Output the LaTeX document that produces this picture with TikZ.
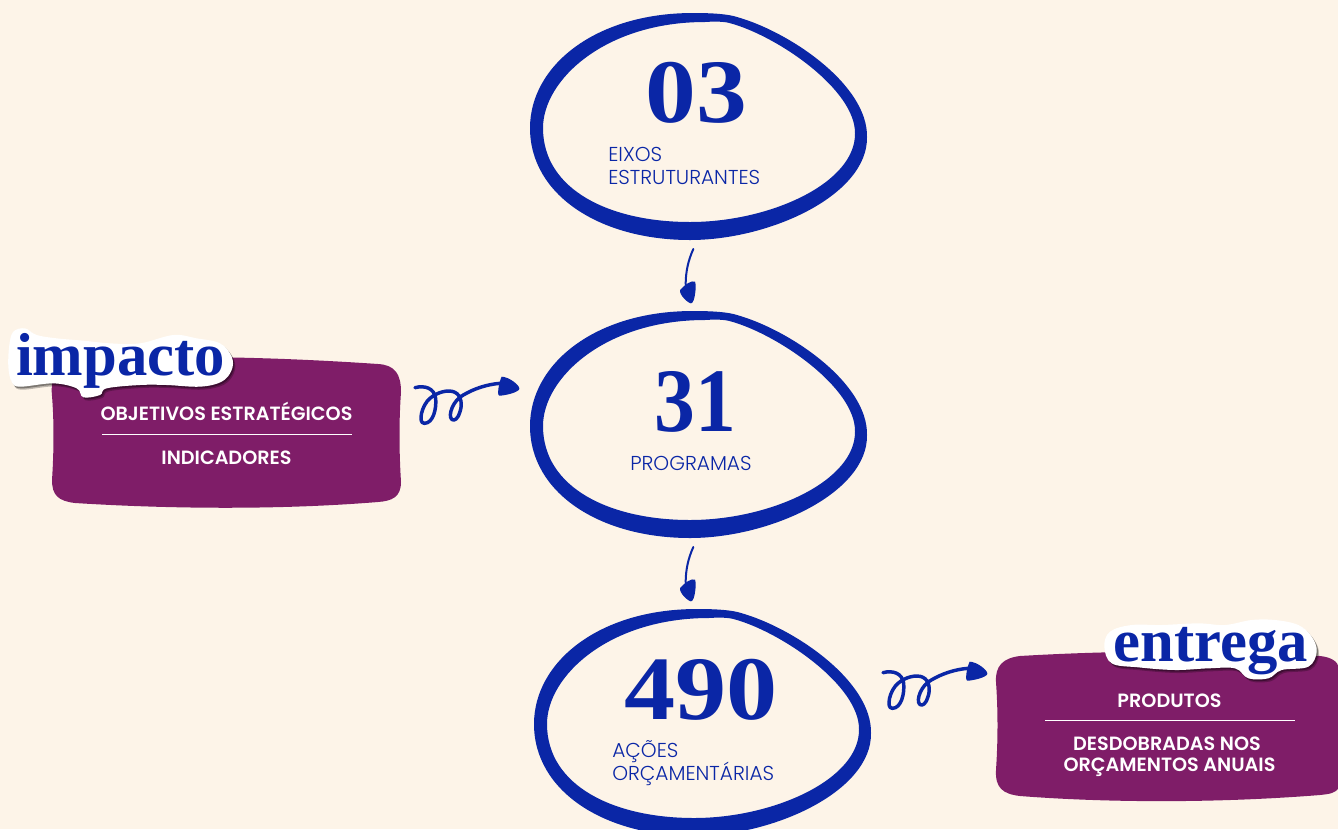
\documentclass[tikz,border=0pt]{standalone}
\usepackage{fontspec}
\usepackage{graphicx}
\setmainfont{Poppins}
\newfontfamily\lightf{Poppins Light}
\newfontfamily\semif{Poppins SemiBold}
\newfontfamily\serif{Liberation Serif}[BoldFont={Liberation Serif Bold}]
\definecolor{bgc}{HTML}{FDF4E8}
\definecolor{bluec}{HTML}{0A26A6}
\definecolor{purplec}{HTML}{7F1D68}
\newcommand{\ringshape}{
  (530,128) .. controls (530,66) and (595,13) .. (693,13)
  .. controls (712,13) and (728,14) .. (737,17)
  .. controls (790,32) and (868,85) .. (867,137)
  .. controls (868,195) and (770,240) .. (690,240)
  .. controls (600,240) and (530,195) .. (530,128) -- cycle
  (543,128) .. controls (543,80) and (605,22) .. (705,22)
  .. controls (720,21) and (727,22) .. (733,24)
  .. controls (780,38) and (855,90) .. (855,133)
  .. controls (856,183) and (770,222) .. (690,222)
  .. controls (610,222) and (543,190) .. (543,128) -- cycle}
\newcommand{\curlline}[2]{(#1) .. controls (60,60) and (88,70) .. (92,100)
  .. controls (95,130) and (85,175) .. (58,175)
  .. controls (38,175) and (50,120) .. (75,100)
  .. controls (95,82) and (130,72) .. (150,82)
  .. controls (170,92) and (172,120) .. (165,140)
  .. controls (160,160) and (148,170) .. (140,163)
  .. controls (128,150) and (145,105) .. (175,90)
  .. controls (205,72) and (245,58) .. (#2)}
\newcommand{\curlhead}{(290,35) .. controls (310,35) and (345,60) .. (343,72)
  .. controls (340,82) and (300,92) .. (283,92)
  .. controls (275,92) and (282,50) .. (290,35) -- cycle}
\newcommand{\downhead}{(45,135) .. controls (60,118) and (80,105) .. (90,110)
  .. controls (95,120) and (90,175) .. (78,175)
  .. controls (70,175) and (42,150) .. (45,135) -- cycle}
\tikzset{
  ring/.style={fill=bluec,even odd rule},
  numtext/.style={font=\serif\bfseries\fontsize{68}{68}\selectfont,text=bluec,inner sep=0pt,anchor=base},
  captext/.style={font=\lightf\fontsize{15.1}{16.5}\selectfont,text=bluec,inner sep=0pt,anchor=base west},
  whitetext/.style={font=\semif\fontsize{14.4}{15.8}\selectfont,text=white,inner sep=0pt,anchor=base},
  stickertext/.style={font=\serif\bfseries\fontsize{45.5}{45.5}\selectfont,text=bluec,inner sep=0pt,anchor=base},
  thinarrow/.style={draw=bluec,line width=1.5pt,line cap=round},
  curlarrow/.style={draw=bluec,line width=2.6pt,line cap=round,line join=round},
  small/.style={x=0.25pt,y=-0.25pt}
}
\begin{document}
\begin{tikzpicture}[x=0.75pt,y=-0.75pt]
\useasboundingbox (0,0) rectangle (1338,829);
\fill[bgc] (0,0) rectangle (1338,829);

% rings
\path[ring] \ringshape;
\begin{scope}[shift={(0,298)}] \path[ring] \ringshape; \end{scope}
\begin{scope}[shift={(4,596)}] \path[ring] \ringshape; \end{scope}

% numbers and captions
\node[numtext] (n03) at (696,122) {\scalebox{1.12}[1]{03}};
\node[numtext] (n31) at (695,431) {\scalebox{0.9}[1]{31}};
\node[numtext] (n490) at (701,719) {\scalebox{1.127}[1]{490}};
\node[captext] (c03a) at (608,161) {EIXOS};
\node[captext] (c03b) at (608,184) {ESTRUTURANTES};
\node[captext] (c31) at (630,470) {PROGRAMAS};
\node[captext] (c490a) at (612,757) {AÇÕES};
\node[captext] (c490b) at (612,780) {ORÇAMENTÁRIAS};

% vertical arrows
\begin{scope}[shift={(665,245)},small]
\coordinate (a1s) at (85,12);
\coordinate (a1e) at (62,118);
\draw[thinarrow] (a1s) .. controls (70,45) and (62,80) .. (a1e);
\fill[bluec] \downhead;
\end{scope}
\begin{scope}[shift={(665,543)},small]
\coordinate (a2s) at (85,12);
\coordinate (a2e) at (62,118);
\draw[thinarrow] (a2s) .. controls (70,45) and (62,80) .. (a2e);
\fill[bluec] \downhead;
\end{scope}

% purple boxes
\fill[purplec] (52,396) .. controls (50,375) and (58,362) .. (78,360)
  .. controls (180,354) and (290,358) .. (378,364)
  .. controls (395,365) and (401,374) .. (401,392)
  .. controls (399,420) and (399,450) .. (401,482)
  .. controls (401,497) and (392,501) .. (378,502)
  .. controls (280,510) and (170,509) .. (75,503)
  .. controls (58,501) and (52,495) .. (52,480)
  .. controls (54,450) and (54,420) .. (52,396) -- cycle;
\fill[purplec] (996,682) .. controls (995,666) and (1003,658) .. (1020,656)
  .. controls (1120,650) and (1230,650) .. (1320,656)
  .. controls (1330,657) and (1338,661) .. (1339,668)
  -- (1339,788)
  .. controls (1335,793) and (1330,794) .. (1320,795)
  .. controls (1220,803) and (1110,803) .. (1020,796)
  .. controls (1003,794) and (995,788) .. (996,770)
  .. controls (998,740) and (998,710) .. (996,682) -- cycle;

% box text
\node[whitetext] (t1) at (226.5,420) {OBJETIVOS ESTRATÉGICOS};
\coordinate (r1a) at (102,434.5);
\coordinate (r1b) at (352,434.5);
\draw[white,line width=0.6pt] (r1a) -- (r1b);
\node[whitetext] (t2) at (226.5,464) {INDICADORES};
\node[whitetext] (t3) at (1169.5,707) {PRODUTOS};
\coordinate (r2a) at (1045,720.5);
\coordinate (r2b) at (1295,720.5);
\draw[white,line width=0.6pt] (r2a) -- (r2b);
\node[whitetext] (t4a) at (1167,750) {DESDOBRADAS NOS};
\node[whitetext] (t4b) at (1169.5,771.5) {ORÇAMENTOS ANUAIS};

% curly arrows
\begin{scope}[shift={(405,365)},small]
\coordinate (l1s) at (30,68);
\coordinate (l1e) at (285,55);
\draw[curlarrow] \curlline{l1s}{l1e};
\fill[bluec] \curlhead;
\end{scope}
\begin{scope}[shift={(873,650)},small]
\coordinate (l2s) at (30,68);
\coordinate (l2e) at (285,55);
\draw[curlarrow] \curlline{l2s}{l2e};
\fill[bluec] \curlhead;
\end{scope}

% stickers
\newcommand{\impshape}{plot[smooth cycle,tension=0.6] coordinates {(28,75) (40,35) (75,25) (110,45) (170,55) (250,62) (330,70) (420,70) (520,45) (590,55) (660,70) (695,110) (695,150) (665,185) (600,200) (500,195) (420,195) (320,205) (300,225) (250,232) (230,205) (160,190) (60,200) (35,185) (25,140)}}
\newcommand{\entshape}{plot[smooth cycle,tension=0.6] coordinates {(28,110) (45,65) (110,45) (200,45) (310,40) (390,45) (470,30) (540,30) (610,45) (650,80) (665,125) (640,170) (560,180) (520,205) (460,205) (420,175) (340,175) (240,180) (130,172) (50,160)}}
\begin{scope}[shift={(0,320)},small]
\fill[black,opacity=0.25] [shift={(7,9)}] \impshape;
\fill[black,opacity=0.35] [shift={(4,5)}] \impshape;
\fill[white] \impshape;
\end{scope}
\begin{scope}[shift={(1095,610)},small]
\fill[black,opacity=0.25] [shift={(7,9)}] \entshape;
\fill[black,opacity=0.35] [shift={(4,5)}] \entshape;
\fill[white] \entshape;
\end{scope}
\node[stickertext] (imp) at (120.5,375) {impacto};
\node[stickertext] (ent) at (1210.5,661) {entrega};
\end{tikzpicture}
\end{document}
